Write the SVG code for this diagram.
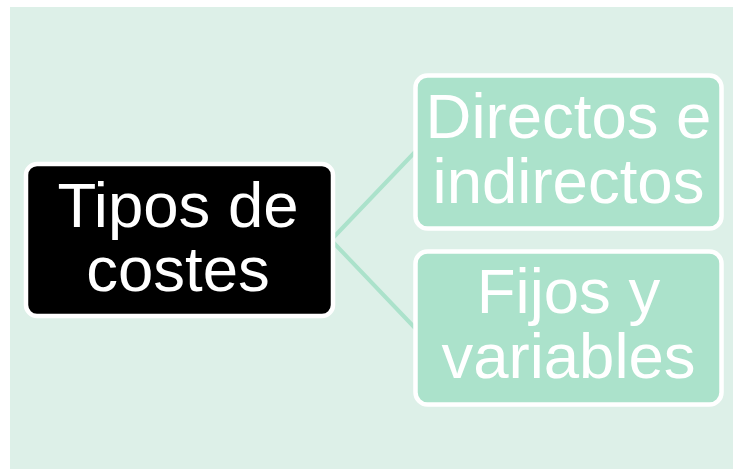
<svg xmlns="http://www.w3.org/2000/svg" width="733" height="469" viewBox="0 0 733 469">
<style>
.node rect{stroke:#ffffff;stroke-width:4.5}
.child rect{fill:#ABE2CB}
.root rect{fill:#000000}
text{font-family:"Liberation Sans",Arial,sans-serif;font-size:63.5px;fill:#ffffff;text-anchor:middle}
.conn line{stroke:#ABE2CB;stroke-width:4;stroke-linecap:round}
</style>
<rect x="10" y="7" width="723" height="462" fill="#DDF0E8"/>
<g id="connectors" class="conn">
<line x1="331" y1="240" x2="415" y2="152"/>
<line x1="331" y1="240" x2="415" y2="328"/>
</g>
<g id="root" class="node root">
<rect x="26" y="164" width="307" height="152" rx="11"/>
<text x="178" y="227">Tipos de</text>
<text x="178" y="291">costes</text>
</g>
<g id="directos" class="node child">
<rect x="415.5" y="75.5" width="306" height="153" rx="12"/>
<text x="568.5" y="138">Directos e</text>
<text x="568.5" y="203">indirectos</text>
</g>
<g id="fijos" class="node child">
<rect x="415.5" y="251.5" width="306" height="153" rx="12"/>
<text x="568.5" y="313">Fijos y</text>
<text x="568.5" y="378">variables</text>
</g>
</svg>
